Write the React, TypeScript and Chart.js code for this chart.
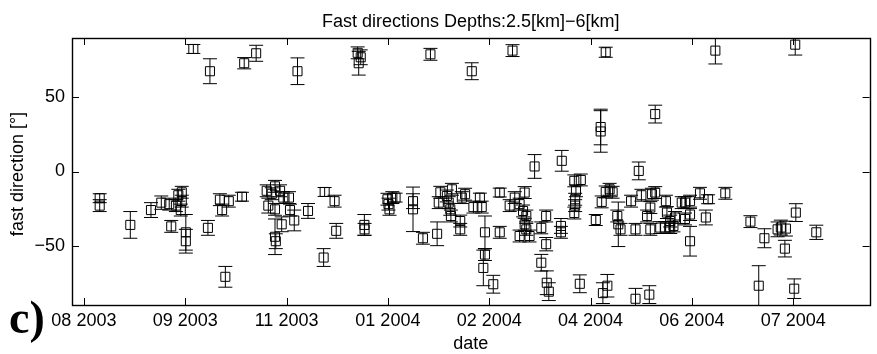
import React, { useEffect, useRef } from "react";
import { Chart, registerables } from "chart.js";

Chart.register(...registerables);

// x values: days counted from the first date tick (labelled "08 2003")
const tickDays = [0, 50, 100, 150, 200, 250, 300, 350];
const tickLabels = ["08 2003", "09 2003", "11 2003", "01 2004", "02 2004", "04 2004", "06 2004", "07 2004"];
const yTickValues = [-50, 0, 50];

const days = [
  7.8, 7.8, 22.9, 33.1, 38.2, 42.1, 43.1, 45.4, 46.6, 47.8, 48.3, 48.3, 50.3, 50.3, 54.0, 61.2, 62.2, 67.1, 68.2, 69.8,
  71.5, 78.0, 79.1, 85.0, 90.2, 91.0, 92.7, 94.3, 94.3, 94.7, 94.3, 96.8, 97.6, 98.4, 101.2, 101.7, 103.8, 105.4, 110.6, 118.3,
  118.8, 123.7, 124.5, 135.1, 135.6, 136.6, 138.4, 138.5, 149.8, 150.3, 150.8, 152.2, 153.8, 162.4, 162.4, 167.3, 171.0, 174.3, 175.1, 175.9,
  179.1, 180.0, 180.8, 181.1, 181.6, 185.7, 185.7, 186.5, 188.1, 191.4, 192.2, 195.4, 196.3, 197.1, 197.9, 197.9, 202.0, 205.2, 205.2, 210.1,
  211.5, 212.6, 215.0, 215.0, 216.7, 217.5, 217.5, 218.3, 218.3, 219.9, 222.4, 225.7, 225.7, 228.1, 228.1, 228.4, 229.4, 235.4, 235.4, 235.8,
  242.0, 242.0, 242.4, 242.4, 242.8, 244.7, 245.2, 252.6, 255.0, 255.0, 255.5, 256.1, 257.5, 257.5, 258.3, 259.4, 260.9, 263.2, 263.7, 264.8,
  270.0, 272.2, 272.2, 273.8, 275.1, 277.9, 279.0, 279.5, 279.5, 280.3, 281.9, 281.9, 284.4, 286.8, 287.2, 287.7, 289.3, 289.3, 290.9, 291.7,
  295.0, 296.6, 296.6, 299.1, 299.1, 299.1, 304.0, 306.9, 308.0, 311.6, 316.5, 328.9, 333.0, 335.8, 342.3, 343.9, 345.9, 346.4, 350.5, 351.0,
  351.3, 361.4,
];

const angles = [
  -18, -23, -36, -26, -21, -22, -37, -23, -16, -26, -14, -20, -41, -47, 82.6, -38, 67.6, -19, -26, -71,
  -20, -17, 73, 79.7, -13, -23, -15, -25.5, -44, -47, -10, -13, -35.6, -17.6, -17.6, -26, -33, 67.6, -26.6, -58,
  -13.8, -20, -40, 80, 73, 77, -36, -39, -18.7, -22, -25.5, -17.6, -17.6, -20, -25.5, -45, 79, -42, -21, -14,
  -16.5, -21, -25.5, -30, -12, -33.4, -39, -17.6, -15.3, 67.6, -24, -17.6, -24, -65, -41, -56, -76, -14.2, -41, -23,
  81.5, -17.6, -22, -43.5, -26.6, -14.2, -35.6, -30, -39, -43.5, 3.4, -38, -61.5, -49, -30, -75, -81, -36.7, -41, 7.2,
  -6.3, -28, -18.7, -23, -13, -75.7, -5.7, -32.7, 30, 27, -20.5, -82, 80.4, -13.8, -77, -12, -14, -30, -35.6, -39,
  -20, -39, -85.8, 0.4, -16, -30, -83, -24.3, -39, -15.3, -14.2, 38.7, -37.8, -37.8, -20, -27.7, -37.8, -33.4, -36.7, -31,
  -21, -21, -32, -20, -29, -47, -14.7, -31, -18.7, 81.5, -14.7, -33.8, -77, -45, -39, -37.8, -52, -38.5, -79, 85.5,
  -27.7, -41,
];

const errors = [
  3, 4, 9, 5, 4.5, 4, 4, 4, 4, 4, 4, 4, 12, 8, 3, 5, 8.4, 4, 4, 7,
  4, 3, 3.8, 5.4, 4, 5, 4, 4, 12, 5, 4, 4, 5, 4, 4, 4, 7, 9, 5, 6,
  3, 4, 5, 4, 8, 5, 7, 4, 4, 4, 4, 4, 3, 5, 15, 4, 4, 8, 4, 4,
  4, 4, 4, 4, 4, 4, 4, 4, 4, 5.7, 4, 3, 4, 12, 11, 4, 6, 3, 4, 4,
  4, 4, 4, 4, 4, 4, 4, 4, 4, 4, 8, 4, 5.6, 4.5, 4, 8, 6, 5, 4, 7,
  4, 4, 4, 4, 4, 6, 4, 3.7, 12, 14, 4, 7, 3.4, 4, 7.6, 4, 4, 4, 15, 4,
  4, 4, 7, 6, 4, 4, 6, 4, 4, 4, 4, 6, 4, 4, 4, 4, 4, 4, 4, 4,
  4, 4, 4, 4, 4, 10, 4, 5, 3, 9, 4, 4, 13.5, 6.4, 5, 5, 5.6, 5, 6.6, 7,
  6, 4.8,
];

const X_MIN = -5.87;
const X_MAX = 387.7;
const Y_MIN = -90;
const Y_MAX = 90;

const SANS = '"Liberation Sans", Arial, Helvetica, sans-serif';
const SERIF = '"Liberation Serif", "Times New Roman", Times, serif';

export default function App() {
  const ref = useRef<HTMLCanvasElement>(null);

  useEffect(() => {
    const canvas = ref.current;
    if (!canvas) return;

    const decor = {
      id: "decor",
      beforeDatasetsDraw(chart: any) {
        const { ctx, chartArea } = chart;
        const xs = chart.scales.x;
        const ys = chart.scales.y;
        ctx.save();
        ctx.beginPath();
        ctx.rect(chartArea.left, chartArea.top, chartArea.right - chartArea.left, chartArea.bottom - chartArea.top);
        ctx.clip();
        ctx.strokeStyle = "#000";
        ctx.lineWidth = 1;
        const cap = 7;
        for (let i = 0; i < days.length; i++) {
          const px = xs.getPixelForValue(days[i]);
          const yLo = ys.getPixelForValue(angles[i] - errors[i]);
          const yHi = ys.getPixelForValue(angles[i] + errors[i]);
          ctx.beginPath();
          ctx.moveTo(px, yLo);
          ctx.lineTo(px, yHi);
          ctx.moveTo(px - cap, yLo);
          ctx.lineTo(px + cap, yLo);
          ctx.moveTo(px - cap, yHi);
          ctx.lineTo(px + cap, yHi);
          ctx.stroke();
        }
        ctx.restore();
      },
      afterDraw(chart: any) {
        const { ctx, chartArea } = chart;
        const xs = chart.scales.x;
        const ys = chart.scales.y;
        const L = chartArea.left, R = chartArea.right, T = chartArea.top, B = chartArea.bottom;
        ctx.save();
        ctx.strokeStyle = "#000";
        ctx.lineWidth = 1;
        // inward tick marks
        const tl = 7;
        ctx.beginPath();
        for (const v of tickDays) {
          const px = Math.round(xs.getPixelForValue(v)) + 0.5;
          ctx.moveTo(px, B);
          ctx.lineTo(px, B - tl);
          ctx.moveTo(px, T);
          ctx.lineTo(px, T + tl);
        }
        for (const v of yTickValues) {
          const py = Math.round(ys.getPixelForValue(v)) + 0.5;
          ctx.moveTo(L, py);
          ctx.lineTo(L + tl, py);
          ctx.moveTo(R, py);
          ctx.lineTo(R - tl, py);
        }
        ctx.stroke();
        // frame
        ctx.lineWidth = 1.4;
        ctx.strokeRect(Math.round(L) + 0.5, Math.round(T) + 0.5, Math.round(R - L), Math.round(B - T));
        // texts
        ctx.fillStyle = "#000";
        ctx.font = `18px ${SANS}`;
        ctx.textAlign = "center";
        ctx.textBaseline = "alphabetic";
        ctx.fillText("Fast directions Depths:2.5[km]\u22126[km]", (L + R) / 2, 27);
        ctx.fillText("date", (L + R) / 2, 349);
        ctx.save();
        ctx.translate(23, 174);
        ctx.rotate(-Math.PI / 2);
        ctx.fillText("fast direction [\u00b0]", 0, 0);
        ctx.restore();
        ctx.textAlign = "left";
        ctx.font = `bold 46px ${SERIF}`;
        ctx.fillText("c)", 9, 333);
        ctx.restore();
      },
    };

    const chart = new Chart(canvas, {
      type: "scatter",
      data: {
        datasets: [
          {
            data: days.map((d, i) => ({ x: d, y: angles[i] })),
            pointStyle: "rect",
            pointRadius: 6.4,
            pointHoverRadius: 6.4,
            borderColor: "#000",
            backgroundColor: "rgba(0,0,0,0)",
            borderWidth: 1,
          },
        ],
      },
      options: {
        responsive: false,
        animation: false,
        devicePixelRatio: 1,
        events: [],
        layout: { padding: { top: 38, right: 1, left: 0, bottom: 0 } },
        plugins: {
          legend: { display: false },
          tooltip: { enabled: false },
          title: { display: false },
        },
        scales: {
          x: {
            type: "linear",
            min: X_MIN,
            max: X_MAX,
            afterFit: (s: any) => {
              s.height = 49;
            },
            afterBuildTicks: (s: any) => {
              s.ticks = tickDays.map((v) => ({ value: v }));
            },
            ticks: {
              autoSkip: false,
              maxRotation: 0,
              minRotation: 0,
              padding: 5,
              color: "#000",
              font: { family: SANS, size: 18 },
              callback: (v: any) => {
                const i = tickDays.indexOf(Number(v));
                return i >= 0 ? tickLabels[i] : "";
              },
            },
            grid: { display: false, drawTicks: false },
            border: { display: false },
          },
          y: {
            type: "linear",
            min: Y_MIN,
            max: Y_MAX,
            afterFit: (s: any) => {
              s.width = 72;
            },
            afterBuildTicks: (s: any) => {
              s.ticks = yTickValues.map((v) => ({ value: v }));
            },
            ticks: {
              padding: 7,
              color: "#000",
              font: { family: SANS, size: 18 },
              callback: (v: any) => {
                const n = Number(v);
                return n < 0 ? "\u2212" + Math.abs(n) : String(n);
              },
            },
            grid: { display: false, drawTicks: false },
            border: { display: false },
          },
        },
      },
      plugins: [decor],
    } as any);

    return () => chart.destroy();
  }, []);

  return (
    <div style={{ position: "absolute", left: 0, top: 0, width: 877, height: 354, background: "#fff" }}>
      <canvas ref={ref} width={877} height={354} style={{ display: "block", width: 877, height: 354 }} />
    </div>
  );
}
